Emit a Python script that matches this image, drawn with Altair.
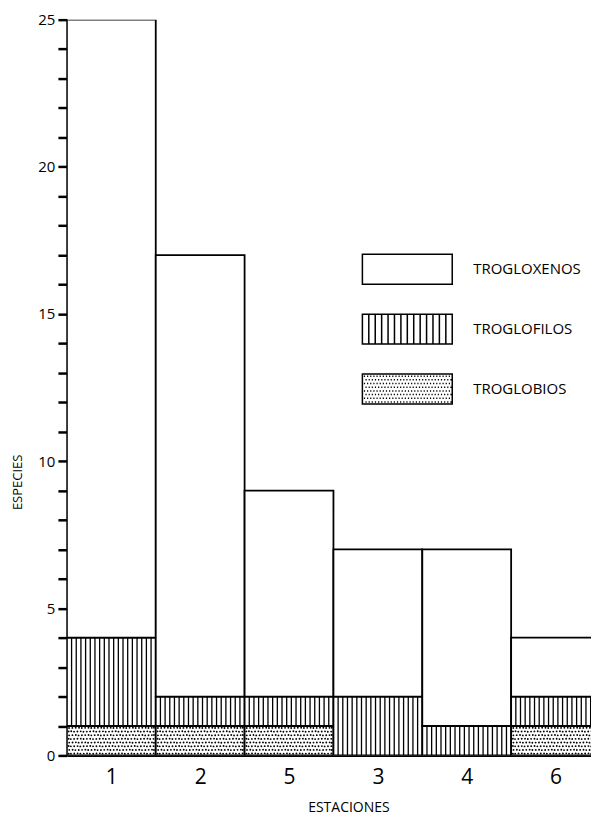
import altair as alt
import pandas as pd

# ---- data ----
stations = ["1", "2", "5", "3", "4", "6"]
troglobios = [1, 1, 1, 0, 0, 1]
troglofilos = [3, 1, 1, 2, 1, 1]
trogloxenos = [21, 15, 7, 5, 6, 2]
categories = ["TROGLOXENOS", "TROGLOFILOS", "TROGLOBIOS"]
y_tick_values = list(range(0, 26))
y_label_step = 5

FONT = "Open Sans"

# ---- stacked segments ----
seg_rows = []
for i, s in enumerate(stations):
    base = 0
    for cat, val in (("TROGLOBIOS", troglobios[i]),
                     ("TROGLOFILOS", troglofilos[i]),
                     ("TROGLOXENOS", trogloxenos[i])):
        if val > 0:
            seg_rows.append(dict(station=s, x0=i, x1=i + 1, y0=base, y1=base + val, cat=cat))
        base += val
seg = pd.DataFrame(seg_rows)

# vertical hatching for troglofilos
N_STRIPES = 19
stripe_rows = []
for r in seg_rows:
    if r["cat"] == "TROGLOFILOS":
        for k in range(1, N_STRIPES):
            stripe_rows.append(dict(x=r["x0"] + k / N_STRIPES, y0=r["y0"], y1=r["y1"]))
stripes = pd.DataFrame(stripe_rows)

# stipple for troglobios (deterministic pattern)
C, R = 28, 8
dot_rows = []
for r in seg_rows:
    if r["cat"] == "TROGLOBIOS":
        h = r["y1"] - r["y0"]
        for rr in range(R):
            for c in range(C):
                j = (((c * 37 + rr * 17) % 7) - 3) / 7 * 0.35
                fx = (c + 0.3 + 0.45 * (rr % 2) + j * 0.5) / C
                fy = (rr + 0.5 + j * 0.4) / R
                fx = min(max(fx, 0.02), 0.98)
                fy = min(max(fy, 0.06), 0.94)
                dot_rows.append(dict(x=r["x0"] + fx, y=r["y0"] + fy * h))
dots = pd.DataFrame(dot_rows)

# ---- legend symbols (custom SVG paths) ----
box = "M-1.5,-0.5H1.5V0.5H-1.5Z"
hatch = box + "".join(f"M{-1.5 + k * 3 / 14:.3f},-0.5V0.5" for k in range(1, 14))
dot_path = box
for rr in range(8):
    for c in range(28):
        x = -1.45 + (c + 0.5 * (rr % 2)) * 0.105
        y = -0.43 + rr * 0.123
        if x < 1.45:
            dot_path += f"M{x:.3f},{y:.3f}h0.04"
shapes = [box, hatch, dot_path]

legend_df = pd.DataFrame({"cat": categories, "x": [0.5] * 3, "y": [10] * 3})

BAR_PX = 89
PLOT_W = 525
X_MAX = PLOT_W / BAR_PX
xscale = alt.Scale(domain=[0, X_MAX], nice=False, zero=False)
yscale = alt.Scale(domain=[0, 25], nice=False)

label_js = "[" + ",".join(f"'{s}'" for s in stations) + "]"

x_axis = alt.Axis(
    title="ESTACIONES",
    values=[i + 0.5 for i in range(len(stations))],
    labelExpr=f"{label_js}[floor(datum.value)]",
    ticks=False, grid=False, labelOverlap=False, labelFlush=False,
    domainColor="black", domainWidth=2.2,
    labelFont=FONT, labelFontSize=21, labelColor="black", labelPadding=11,
    titleFont=FONT, titleFontSize=14, titleFontWeight="normal", titleColor="black",
    titlePadding=13, titleX=282,
)
y_axis = alt.Axis(
    title="ESPECIES",
    values=y_tick_values,
    labelExpr=f"datum.value % {y_label_step} == 0 ? datum.value : ''",
    grid=False, labelOverlap=False, labelFlush=False, labelBound=False,
    domainColor="black", domainWidth=2.2,
    tickColor="black", tickWidth=2.5, tickSize=9,
    labelFont=FONT, labelFontSize=15, labelColor="black", labelPadding=3,
    titleFont=FONT, titleFontSize=13, titleFontWeight="normal", titleColor="black",
    titleX=-42, titleY=463,
)

hidden = alt.Chart(legend_df).mark_point(
    filled=False, color="black", strokeWidth=1.5, opacity=1
).encode(
    x=alt.X("x:Q", scale=xscale, axis=x_axis),
    y=alt.Y("y:Q", scale=yscale, axis=y_axis),
    shape=alt.Shape("cat:N", scale=alt.Scale(domain=categories, range=shapes),
                    legend=alt.Legend(
                        title=None, orient="none", legendX=310, legendY=219,
                        symbolSize=3600, symbolStrokeWidth=1.5,
                        symbolStrokeColor="black", symbolFillColor="white",
                        labelFont=FONT, labelFontSize=15, labelColor="black",
                        labelOffset=35, rowPadding=11, padding=0,
                    )),
)

bars = alt.Chart(seg).mark_rect(
    fill="white", stroke="black", strokeWidth=1.8, clip=True
).encode(
    x=alt.X("x0:Q", scale=xscale, axis=x_axis), x2="x1:Q",
    y=alt.Y("y0:Q", scale=yscale, axis=y_axis), y2="y1:Q",
)

stripe_layer = alt.Chart(stripes).mark_rule(
    color="black", strokeWidth=1.3, clip=True
).encode(
    x=alt.X("x:Q", scale=xscale, axis=x_axis),
    y=alt.Y("y0:Q", scale=yscale, axis=y_axis), y2="y1:Q",
)

dot_layer = alt.Chart(dots).mark_circle(
    color="black", size=3.5, opacity=1, clip=True
).encode(
    x=alt.X("x:Q", scale=xscale, axis=x_axis),
    y=alt.Y("y:Q", scale=yscale, axis=y_axis),
)

chart = alt.layer(hidden, bars, stripe_layer, dot_layer).properties(
    width=PLOT_W, height=737, padding={"left": 4, "top": 4, "right": 0, "bottom": 0},
    background="white",
).configure_view(stroke=None)

chart.save("out.html", embed_options={"renderer": "svg", "actions": False})
